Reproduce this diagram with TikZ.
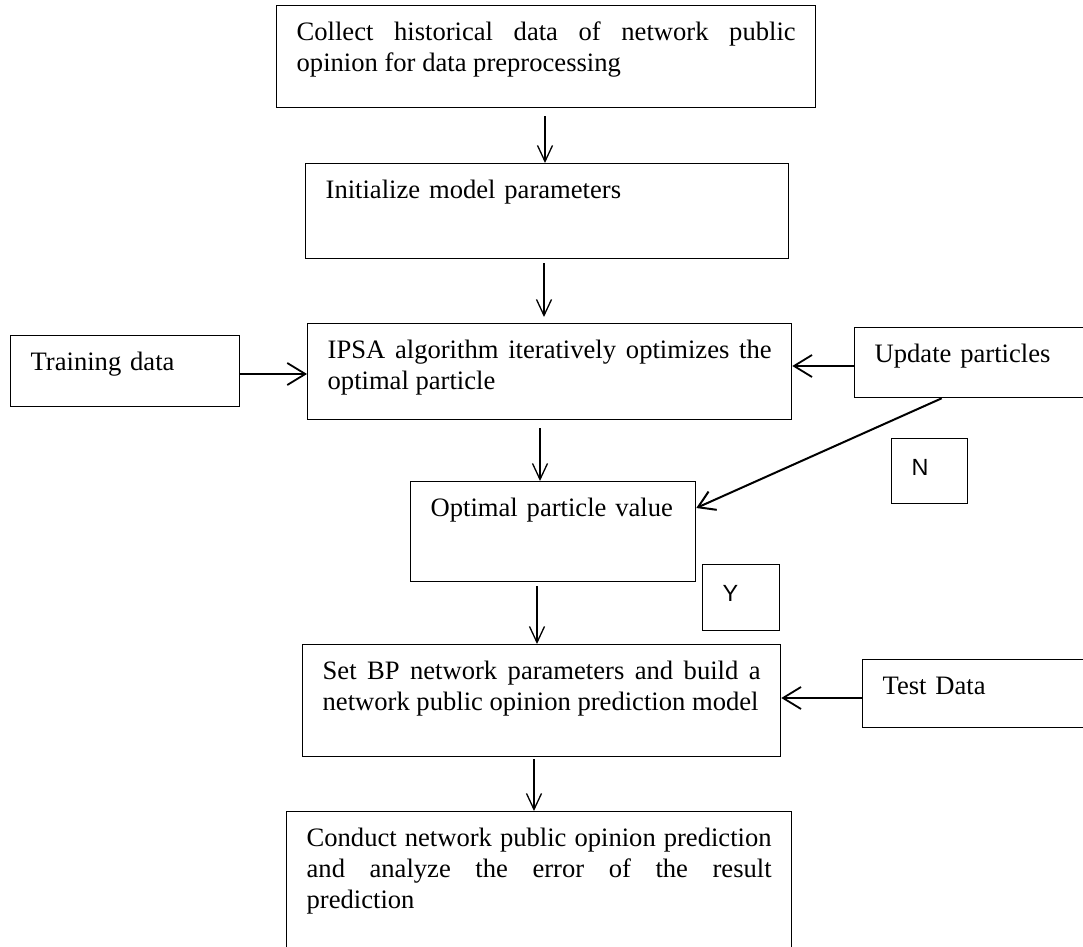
\documentclass[tikz,border=0pt]{standalone}
\usepackage{fontspec}
\setmainfont{Liberation Serif}
\setsansfont{Liberation Sans}
\usepackage{tikz}
\usetikzlibrary{arrows.meta}
\setlength{\parindent}{0pt}
\tikzset{
  box/.style={rectangle, draw, line width=0.65pt, anchor=north west, inner xsep=10pt,
              inner ysep=0pt, align=justify, text height=17.5pt,
              font=\fontsize{13.3}{15.5}\selectfont},
  yn/.style={box, align=left, text height=18.5pt, font=\sffamily\fontsize{11.7}{14}\selectfont},
  arr/.style={-{Straight Barb[length=8pt,width=7.5pt]}, line width=0.65pt},
  harr/.style={-{Straight Barb[length=9pt,width=11pt,line width=0.9pt]}, line width=1.4pt},
  darr/.style={-{Straight Barb[length=8pt,width=10pt]}, line width=1pt}
}
\begin{document}
\begin{tikzpicture}[x=0.5pt,y=-0.5pt]
  \useasboundingbox (0,0) rectangle (1083,947);
  \node[box, text width=249.5pt, text depth=33.5pt] (b1) at (276,5)
    {Collect historical data of network public\linebreak opinion for data preprocessing};
  \node[box, align=left, text width=221.5pt, text depth=30pt] (b2) at (305,163)
    {Initialize model parameters};
  \node[box, text width=222pt, text depth=30.5pt] (b3) at (307,323)
    {IPSA algorithm iteratively optimizes the\linebreak optimal particle};
  \node[box, align=left, text width=94.5pt, text depth=18pt] (train) at (10,335)
    {Training data};
  \node[box, align=left, text width=103pt, text depth=17.5pt] (upd) at (854,327)
    {Update particles};
  \node[yn, text width=18pt, text depth=14pt] (no) at (891,438) {N};
  \node[box, align=left, text width=122.5pt, text depth=32.5pt] (b4) at (410,481)
    {Optimal particle value};
  \node[yn, text width=18.5pt, text depth=14.5pt] (yes) at (702,564) {Y};
  \node[box, text width=219pt, text depth=38.5pt] (b5) at (302,644)
    {Set BP network parameters and build a\linebreak network public opinion prediction model};
  \node[box, align=left, text width=100pt, text depth=16.5pt] (test) at (862,659)
    {Test Data};
  \node[box, text width=232.5pt, text depth=77pt] (b6) at (286,811)
    {Conduct network public opinion prediction\linebreak and analyze the error of the result\linebreak prediction};

  \draw[arr] ([yshift=-4pt]545,0 |- b1.south) -- (545,0 |- b2.north);
  \draw[arr] ([yshift=-2pt]544,0 |- b2.south) -- ([yshift=3pt]544,0 |- b3.north);
  \draw[arr] ([yshift=-4pt]540,0 |- b3.south) -- (540,0 |- b4.north);
  \draw[arr] ([yshift=-2pt]537,0 |- b4.south) -- (537,0 |- b5.north);
  \draw[arr] ([yshift=-1pt]534,0 |- b5.south) -- (534,0 |- b6.north);
  \draw[harr] (0,374 -| train.east) -- (0,374 -| b3.west);
  \draw[harr] (0,366 -| upd.west) -- (0,366 -| b3.east);
  \draw[harr] (0,698 -| test.west) -- (0,698 -| b5.east);
  \draw[darr] (941.7,0 |- upd.south) -- (0,508 -| b4.east);
\end{tikzpicture}
\end{document}
